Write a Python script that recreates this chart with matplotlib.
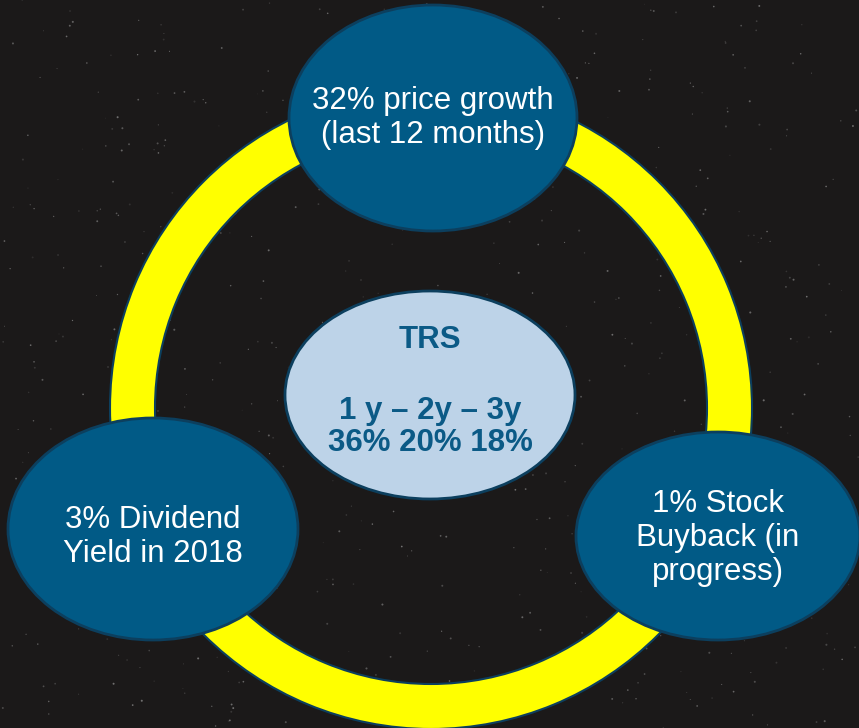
import numpy as np
import matplotlib
matplotlib.use("Agg")
import matplotlib.pyplot as plt
from matplotlib.patches import Ellipse, Annulus

# content
node_labels = ["32% price growth\n(last 12 months)",
               "3% Dividend\nYield in 2018",
               "1% Stock\nBuyback (in\nprogress)"]
trs_title = "TRS"
trs_periods = ["1 y", "2y", "3y"]
trs_values = [36, 20, 18]

# layout (pixel coords, y down)
W, H = 859, 728
ring_center = (431, 408)
ring_outer, ring_width = 321, 45
node_centers = [(433, 118), (153, 529), (718, 536)]
node_sizes = [(288, 226), (290, 222), (284, 208)]
text_offsets = [0, 8, 2]
center_xy, center_size = (430, 395), (290, 208)

bg = "#1b1919"
node_fill = "#015a86"
node_edge = "#0c3f5e"
center_fill = "#bdd3e8"
center_text = "#0b5a86"

plt.rcParams['font.family'] = ['Liberation Sans', 'DejaVu Sans']

fig = plt.figure(figsize=(W / 100, H / 100), dpi=100)
fig.patch.set_facecolor(bg)
ax = fig.add_axes([0, 0, 1, 1])
ax.set_xlim(0, W)
ax.set_ylim(H, 0)
ax.axis("off")
ax.set_facecolor(bg)

# faint star field (decoration only)
rng = np.random.default_rng(7)
n = 650
sx = rng.uniform(0, W, n)
sy = rng.uniform(0, H, n)
ss = rng.uniform(0.3, 2.2, n)
cols = np.ones((n, 4)) * 0.8
cols[:, 3] = rng.uniform(0.1, 0.5, n)
ax.scatter(sx, sy, s=ss, c=cols, linewidths=0, zorder=0)

ax.add_patch(Annulus(ring_center, ring_outer, ring_width, facecolor="#ffff00",
                     edgecolor=node_edge, linewidth=1.5, zorder=1))

for (cx, cy), (w, h), dy, label in zip(node_centers, node_sizes, text_offsets, node_labels):
    ax.add_patch(Ellipse((cx, cy), w, h, facecolor=node_fill, edgecolor=node_edge,
                         linewidth=2, zorder=2))
    ax.text(cx, cy + dy, label, color="white", fontsize=22.5, ha="center", va="center",
            linespacing=1.17, zorder=3)

ax.add_patch(Ellipse(center_xy, *center_size, facecolor=center_fill, edgecolor=node_edge,
                     linewidth=2, zorder=2))
ax.text(center_xy[0], 340, trs_title, color=center_text, fontsize=22.5, fontweight="bold",
        ha="center", va="center", zorder=3)
ax.text(center_xy[0], 427, " – ".join(trs_periods) + "\n" + " ".join(f"{v}%" for v in trs_values),
        color=center_text, fontsize=22.5, fontweight="bold", ha="center", va="center",
        linespacing=1.05, zorder=3)

fig.savefig("out.png", dpi=100, facecolor=bg)
